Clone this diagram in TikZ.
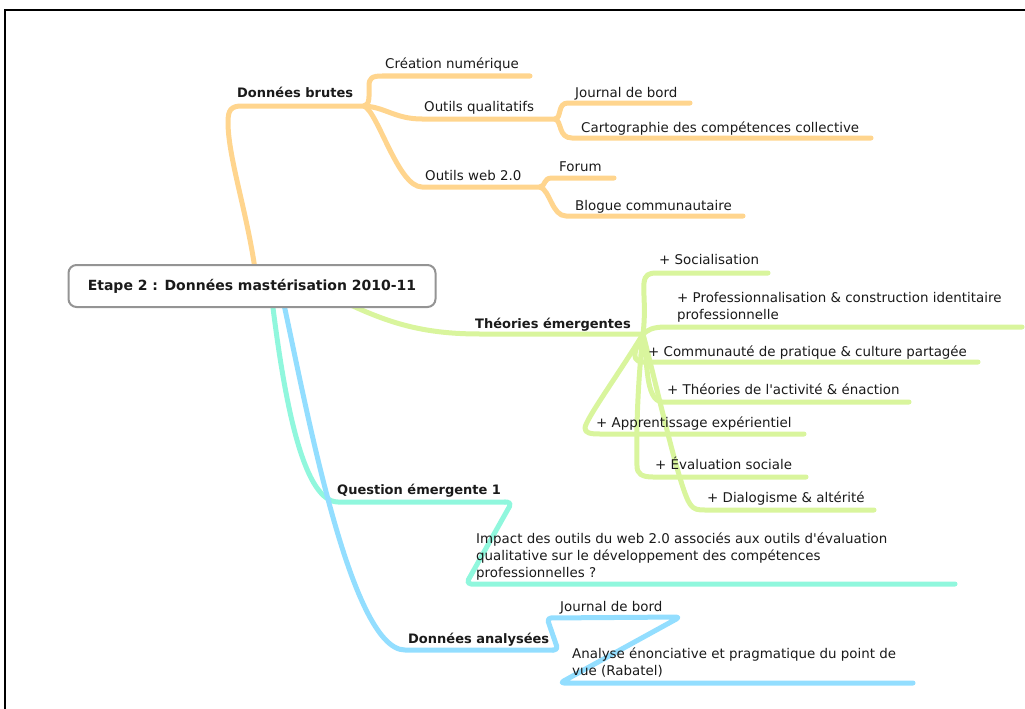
\documentclass[tikz,border=0pt]{standalone}
\usepackage{fontspec}
\setmainfont{DejaVu Sans}
\definecolor{cOr}{HTML}{FFD58E}
\definecolor{cGr}{HTML}{D9F59D}
\definecolor{cTe}{HTML}{90F7DD}
\definecolor{cBl}{HTML}{93DEFF}
\definecolor{cTx}{HTML}{1A1A1A}
\begin{document}
\begin{tikzpicture}[x=1pt,y=-1pt,
  branch/.style={line width=5pt, line cap=round, line join=round},
  orng/.style={branch, draw=cOr},
  grn/.style={branch, draw=cGr},
  tea/.style={branch, draw=cTe},
  blu/.style={branch, draw=cBl},
  lbl/.style={anchor=base west, inner sep=0pt, text=cTx, font=\fontsize{13.4}{17}\selectfont},
  blbl/.style={anchor=base west, inner sep=0pt, text=cTx, font=\fontsize{13}{17}\selectfont\bfseries},
  rootbox/.style={draw=black!42, line width=2pt, rounded corners=8pt, fill=white, minimum width=367pt, minimum height=42pt, inner sep=0pt, text=cTx, font=\fontsize{14}{17}\selectfont\bfseries}
]
\useasboundingbox (0,0) rectangle (1025,709);
\draw[line width=2pt] (5,709) -- (5,10) -- (1025,10);

% hubs and anchor coordinates
\coordinate (rootO) at (257,285);
\coordinate (rootG) at (336,298);
\coordinate (rootT) at (272,300);
\coordinate (rootB) at (283,300);
\coordinate (hO) at (364,106);
\coordinate (hQ) at (555,119);
\coordinate (hW) at (540,187);
\coordinate (hT) at (643,334);
\coordinate (hQE) at (505,502);
\coordinate (hDA) at (553,650);
\coordinate (eCre) at (530,76);
\coordinate (eJo) at (690,103);
\coordinate (eCa) at (871,138);
\coordinate (eFo) at (614,178);
\coordinate (eBl) at (743,216);
\coordinate (eSo) at (768,273);
\coordinate (ePr) at (1022,327);
\coordinate (eCo) at (978,362);
\coordinate (eTh) at (909,402);
\coordinate (eAp) at (804,434);
\coordinate (eEv) at (806,477);
\coordinate (eDi) at (874,510);
\coordinate (eIm) at (955,584);
\coordinate (eJ2) at (680,617);
\coordinate (eAn) at (913,683);

% orange branch
\draw[orng] (rootO) .. controls (250,220) and (228,160) .. (228,122) .. controls (228,110) and (231,106) .. (242,106) -- (hO);
\draw[orng] (hO) .. controls (370,105) and (369,96) .. (369,86) .. controls (369,78) and (372,76) .. (382,76) -- (eCre);
\draw[orng] (hO) .. controls (385,107) and (395,119) .. (422,119) -- (hQ);
\draw[orng] (hO) .. controls (378,112) and (398,187) .. (422,187) -- (hW);
\draw[orng] (hQ) .. controls (562,118) and (557,103) .. (568,103) -- (eJo);
\draw[orng] (hQ) .. controls (562,121) and (558,138) .. (572,138) -- (eCa);
\draw[orng] (hW) .. controls (546,186) and (543,178) .. (552,178) -- (eFo);
\draw[orng] (hW) .. controls (550,190) and (552,216) .. (566,216) -- (eBl);

% green branch
\draw[grn] (rootG) .. controls (385,322) and (420,334) .. (480,334) -- (hT);
\draw[grn] (hT) .. controls (646,310) and (643,292) .. (644,283) .. controls (645,275) and (648,273) .. (657,273) -- (eSo);
\draw[grn] (hT) .. controls (648,330) and (652,327) .. (666,327) -- (ePr);
\draw[grn] (hT) .. controls (638,345) and (628,360) .. (642,362) -- (eCo);
\draw[grn] (hT) .. controls (648,362) and (645,400) .. (662,402) -- (eTh);
\draw[grn] (hT) .. controls (620,372) and (585,420) .. (585,428) .. controls (585,433) and (590,434) .. (600,434) -- (eAp);
\draw[grn] (hT) .. controls (638,380) and (636,430) .. (637,466) .. controls (637,474) and (642,477) .. (653,477) -- (eEv);
\draw[grn] (hT) .. controls (660,400) and (680,490) .. (690,504) .. controls (694,510) and (698,510) .. (706,510) -- (eDi);

% teal branch
\draw[tea] (rootT) .. controls (282,380) and (300,502) .. (338,502) -- (hQE);
\draw[tea, rounded corners=5pt] (hQE) -- (512,502) -- (466,584) -- (eIm);

% blue branch
\draw[blu] (rootB) .. controls (305,400) and (350,650) .. (405,650) -- (hDA);
\draw[blu, rounded corners=4pt] (hDA) -- (558,650) -- (547,618) -- (eJ2) -- (560,683) -- (eAn);

% central node
\node[rootbox] (root) at (252,286) {Etape 2 : Données mastérisation 2010-11};

% labels
\node[blbl] (brutes) at (237,97) {Données brutes};
\node[lbl] (creation) at (385,69) {Création numérique};
\node[lbl] (qualit) at (424,111) {Outils qualitatifs};
\node[lbl] (web) at (425,180) {Outils web 2.0};
\node[lbl] (journal) at (575,97) {Journal de bord};
\node[lbl] (carto) at (581,132) {Cartographie des compétences collective};
\node[lbl] (forum) at (559,171) {Forum};
\node[lbl] (blogue) at (575,210) {Blogue communautaire};

\node[blbl] (theories) at (475,328) {Théories émergentes};
\node[lbl] (social) at (659,264) {+ Socialisation};
\node[lbl] (prof) at (677,302) {\begin{tabular}[t]{@{}l@{}}+ Professionnalisation \& construction identitaire\\professionnelle\end{tabular}};
\node[lbl] (commu) at (648,356) {+ Communauté de pratique \& culture partagée};
\node[lbl] (activ) at (667,394) {+ Théories de l\textquotesingle activité \& énaction};
\node[lbl] (appr) at (596,427) {+ Apprentissage expérientiel};
\node[lbl] (evals) at (655,469) {+ Évaluation sociale};
\node[lbl] (dialog) at (707,502) {+ Dialogisme \& altérité};

\node[blbl] (question) at (337,494) {Question émergente 1};
\node[lbl] (impact) at (476,543) {\begin{tabular}[t]{@{}l@{}}Impact des outils du web 2.0 associés aux outils d\textquotesingle évaluation\\qualitative sur le développement des compétences\\professionnelles ?\end{tabular}};

\node[blbl] (analys) at (408,643) {Données analysées};
\node[lbl] (journal2) at (560,611) {Journal de bord};
\node[lbl] (analyse) at (572,658) {\begin{tabular}[t]{@{}l@{}}Analyse énonciative et pragmatique du point de\\vue (Rabatel)\end{tabular}};
\end{tikzpicture}
\end{document}
